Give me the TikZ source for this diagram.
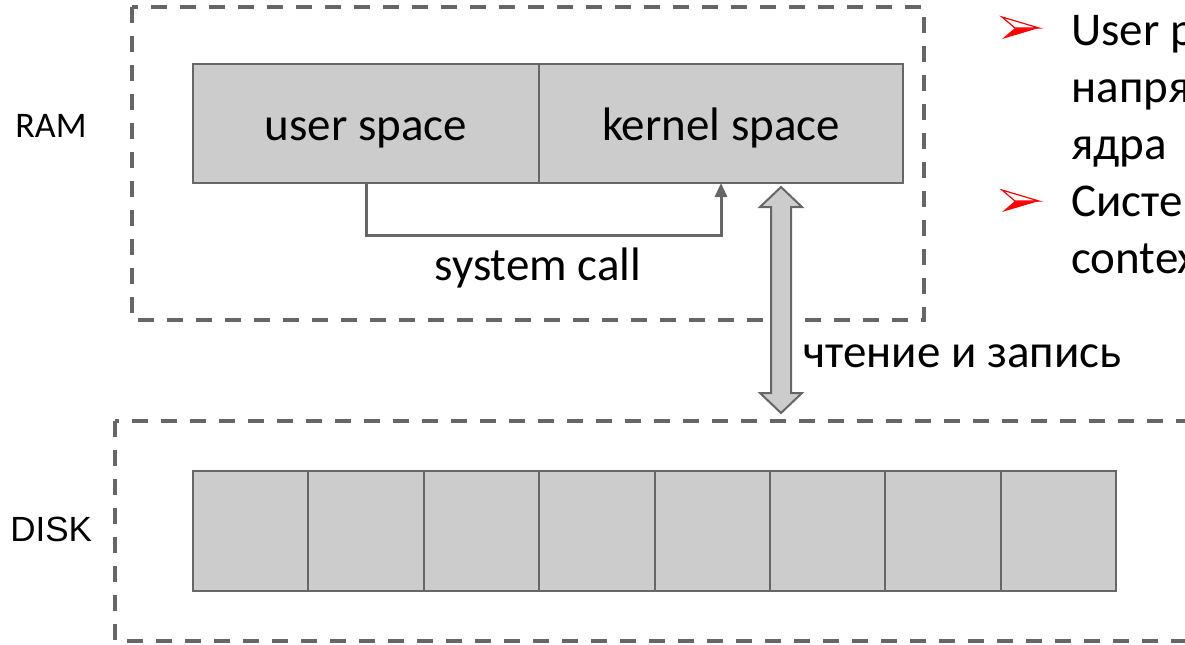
\documentclass[tikz,border=0pt]{standalone}
\usepackage{fontspec}
\setmainfont{Carlito}
\newfontfamily\arialf{Liberation Sans}
\usetikzlibrary{arrows.meta,calc}
\definecolor{boxfill}{RGB}{204,204,204}
\definecolor{linegray}{RGB}{102,102,102}
\definecolor{bulletred}{RGB}{255,0,0}
\tikzset{
  cell/.style={draw=linegray, line width=1pt, fill=boxfill, minimum height=59.5pt,
    inner sep=0pt, outer sep=0pt, anchor=north west,
    font=\fontsize{23.5}{28}\selectfont, text height=20pt, text depth=3.5pt},
  region/.style={draw=linegray, line width=1.6pt, dash pattern=on 8pt off 6.5pt},
  bigtxt/.style={font=\fontsize{23.5}{28}\selectfont, inner sep=0pt},
  lbl/.style={inner sep=0pt, anchor=base west},
  conn/.style={draw=linegray, line width=1.5pt, -{Triangle[length=7pt,width=6pt]}},
  bigarrow/.style={draw=linegray, line width=1pt, fill=boxfill, line join=miter},
}
\begin{document}
\begin{tikzpicture}[x=0.5pt,y=-0.5pt]
\useasboundingbox (0,0) rectangle (1185,644);
\clip (0,0) rectangle (1185,644);

% dashed regions
\draw[region] (132,7) rectangle (924,320);
\draw[region] (115,421) rectangle (1260,641);

% RAM boxes
\node[cell, minimum width=173pt] (user) at (193,64) {user space};
\node[cell, minimum width=182pt] (kernel) at (539,64) {kernel space};

% system call connector
\draw[conn] (user.south) -- ++(0,52) -| (kernel.south);
\node[bigtxt, anchor=base] (sc) at (538,280) {system call};

% disk cells
\foreach \i in {0,...,7}
  \node[cell, minimum width=57.6875pt, minimum height=60pt] (d\i) at ({193+115.375*\i},471) {};

% read/write double arrow
\coordinate (rwtop) at (781,187);
\coordinate (rwbot) at (781,413);
\draw[bigarrow] (rwtop) -- ++(21,20) -- ++(-11,0) -- ($(rwbot)+(10,-20)$) -- ++(11,0)
  -- (rwbot) -- ++(-21,-20) -- ++(11,0) -- ($(rwtop)+(-10,20)$) -- ++(-11,0) -- cycle;
\node[bigtxt, anchor=base west] (rw) at (803,367) {чтение и запись};

% side labels
\node[lbl, font=\fontsize{18}{21}\selectfont] (ram) at (15,137) {RAM};
\node[lbl, font=\arialf\fontsize{17.5}{21}\selectfont] (disk) at (10,541) {DISK};

% bullets
\foreach \by in {28,201} {
  \fill[bulletred] (1039,\by) -- (1002,{\by+11}) -- (1015,\by) -- cycle;
  \draw[bulletred, fill=white, line width=0.6pt, line join=miter] (1039,\by) -- (1002,{\by-11}) -- (1015,\by) -- cycle;
}
\node[bigtxt, anchor=base west] (b1) at (1071,45) {User p};
\node[bigtxt, anchor=base west] (b2) at (1071,102) {напря};
\node[bigtxt, anchor=base west] (b3) at (1071,159) {ядра};
\node[bigtxt, anchor=base west] (b4) at (1071,216) {Систе};
\node[bigtxt, anchor=base west] (b5) at (1071,273) {contex};
\end{tikzpicture}
\end{document}
